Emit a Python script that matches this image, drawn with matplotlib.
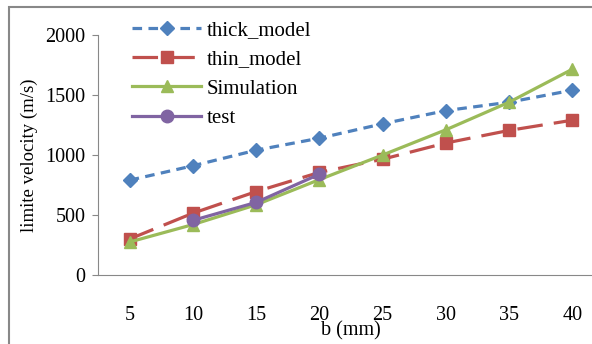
import numpy as np
import matplotlib
matplotlib.use("Agg")
import matplotlib.pyplot as plt
from matplotlib.patches import Rectangle

plt.rcParams['font.family'] = ['Liberation Serif', 'DejaVu Serif']

b = [5, 10, 15, 20, 25, 30, 35, 40]
thick_model = [790, 910, 1040, 1140, 1260, 1370, 1440, 1540]
thin_model = [300, 515, 695, 855, 965, 1100, 1205, 1290]
simulation = [275, 420, 585, 795, 1000, 1210, 1440, 1715]
test = [np.nan, 455, 605, 840, np.nan, np.nan, np.nan, np.nan]

fig = plt.figure(figsize=(5.92, 3.44), dpi=100)
ax = fig.add_axes([98 / 592, 1 - 275 / 344, 506 / 592, 240 / 344])

x = np.arange(1, len(b) + 1)
ax.plot(x, thick_model, color='#4F81BD', lw=2.3, ls=(0, (3, 2)),
        marker='D', ms=7, label='thick_model')
ax.plot(x, thin_model, color='#C0504D', lw=2.3, ls=(0, (8, 3.5)),
        marker='s', ms=8, label='thin_model')
ax.plot(x, simulation, color='#9BBB59', lw=2.3,
        marker='^', ms=9, label='Simulation')
ax.plot(x, test, color='#8064A2', lw=2.3,
        marker='o', ms=9, label='test')

ax.set_xlim(0.5, 8.5)
ax.set_ylim(0, 2000)
ax.set_yticks([0, 500, 1000, 1500, 2000])
ax.set_xticks(x)
ax.set_xticklabels([str(v) for v in b])
ax.tick_params(axis='x', length=0, pad=22, labelsize=14.5)
ax.tick_params(axis='y', length=4, color='#888888', pad=5, labelsize=14.5)
for s in ['top', 'right']:
    ax.spines[s].set_visible(False)
for s in ['left', 'bottom']:
    ax.spines[s].set_color('#888888')

ax.set_ylabel('limite velocity (m/s)', fontsize=13.5)
ax.yaxis.set_label_coords(-(98 - 38) / 506, 0.5)
fig.text(351 / 592, 1 - 331 / 344, 'b (mm)', ha='center', va='center', fontsize=14.5)

leg = fig.legend(loc='upper left', bbox_to_anchor=(124 / 592, 1 - 12 / 344),
                 frameon=False, fontsize=15, handlelength=3.3,
                 labelspacing=0.47, handletextpad=0.25, borderaxespad=0)

fig.patches.append(Rectangle((9 / 592, -0.1), 1.2, 1 - 7 / 344 + 0.1,
                             transform=fig.transFigure, fill=False,
                             edgecolor='#888888', lw=1.5))

fig.savefig('out.png', dpi=100)
